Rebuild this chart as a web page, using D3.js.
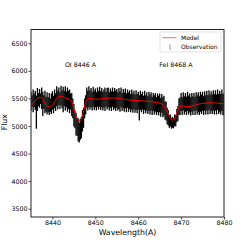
<!DOCTYPE html>
<html>
<head>
<meta charset="utf-8">
<script src="https://cdn.jsdelivr.net/npm/d3@7"></script>
<style>
  html, body { margin: 0; padding: 0; background: #fff; }
  svg { display: block; font-family: 'DejaVu Sans', sans-serif; }
</style>
</head>
<body>
<div id="chart"></div>
<script>
// observation: one column every 0.25 A from 8435 to 8480, low / high edge of the errorbar
var obsStart = 8435, obsStep = 0.25;
var obsHigh = [
  5620, 5560, 5660, 5590,  5640, 5550, 5690, 5600,  5670, 5590, 5700, 5620,
  5560, 5640, 5530, 5610,  5520, 5600, 5500, 5590,  5630, 5550, 5660, 5590,
  5720, 5640, 5700, 5610,  5730, 5650, 5710, 5640,  5720, 5620, 5700, 5640,
  5660, 5590, 5600, 5500,  5400, 5280, 5240, 5140,  5140, 5060, 5130, 5170,
  5290, 5330, 5500, 5560,  5700, 5640, 5720, 5650,  5690, 5620, 5710, 5640,
  5680, 5610, 5700, 5640,  5710, 5630, 5690, 5620,  5660, 5700, 5620, 5690,
  5700, 5610, 5680, 5630,  5700, 5620, 5690, 5640,  5670, 5610, 5690, 5630,
  5700, 5600, 5670, 5610,  5680, 5590, 5660, 5610,  5650, 5580, 5660, 5590,
  5640, 5570, 5650, 5580,  5620, 5560, 5640, 5580,  5620, 5550, 5640, 5560,
  5610, 5540, 5620, 5570,  5610, 5530, 5600, 5560,  5600, 5520, 5590, 5550,
  5590, 5510, 5580, 5520,  5550, 5450, 5440, 5330,  5290, 5200, 5210, 5150,
  5170, 5140, 5210, 5200,  5310, 5360, 5500, 5520,  5600, 5520, 5610, 5540,
  5600, 5530, 5620, 5550,  5590, 5520, 5600, 5540,  5600, 5530, 5610, 5560,
  5610, 5540, 5620, 5570,  5620, 5540, 5630, 5560,  5640, 5560, 5650, 5570,
  5630, 5570, 5650, 5580,  5650, 5570, 5660, 5580,  5640, 5580, 5660, 5590,
  5580
];
var obsLow = [
  5280, 5350, 5250, 5340,  5290, 4950, 5270, 5360,  5330, 5400, 5310, 5180,
  5310, 5230, 5260, 5210,  5250, 5200, 5260, 5220,  5300, 5230, 5320, 5270,
  5360, 5300, 5380, 5310,  5370, 5320, 5250, 5360,  5280, 5340, 5260, 5310,
  5230, 5300, 5180, 5140,  4990, 4960, 4830, 4820,  4720, 4700, 4750, 4780,
  4900, 4970, 5140, 5210,  5330, 5280, 5340, 5300,  5340, 5280, 5350, 5290,
  5340, 5280, 5350, 5300,  5350, 5290, 5340, 5280,  5330, 5270, 5350, 5300,
  5340, 5280, 5330, 5270,  5350, 5290, 5320, 5270,  5330, 5280, 5310, 5260,
  5340, 5270, 5320, 5260,  5320, 5250, 5330, 5260,  5310, 5250, 5300, 5240,
  5300, 5240, 5290, 5230,  5300, 5100, 5290, 5250,  5300, 5220, 5290, 5230,
  5280, 5220, 5270, 5210,  5280, 5200, 5270, 5210,  5260, 5200, 5250, 5190,
  5250, 5170, 5240, 5160,  5190, 5120, 5100, 5030,  5010, 4970, 4990, 4950,
  4970, 4960, 5000, 4990,  5070, 5090, 5200, 5200,  5270, 5200, 5280, 5210,
  5260, 5200, 5270, 5210,  5250, 5190, 5260, 5200,  5270, 5200, 5280, 5210,
  5250, 5200, 5260, 5220,  5270, 5200, 5280, 5210,  5280, 5210, 5290, 5220,
  5270, 5220, 5280, 5210,  5280, 5210, 5290, 5220,  5260, 5210, 5270, 5200,
  5190
];

// model spectrum
var modelWave = [8435.0, 8435.8, 8436.5, 8437.2, 8437.8, 8438.4, 8439.0, 8439.6, 8440.2, 8440.8,
  8441.4, 8442.0, 8442.8, 8443.5, 8444.0, 8444.5, 8445.0, 8445.5, 8446.0, 8446.3,
  8446.7, 8447.2, 8447.7, 8448.2, 8449.0, 8450.0, 8452.0, 8454.0, 8456.0, 8458.0,
  8460.0, 8462.0, 8464.0, 8465.5, 8466.3, 8466.9, 8467.4, 8468.0, 8468.6, 8469.1,
  8469.7, 8470.5, 8471.5, 8472.5, 8474.0, 8475.5, 8477.0, 8478.5, 8480.0];
var modelFlux = [5371, 5440, 5500, 5522, 5480, 5390, 5350, 5345, 5400, 5480,
  5530, 5540, 5520, 5490, 5480, 5440, 5320, 5190, 5110, 5095,
  5120, 5250, 5410, 5490, 5500, 5485, 5495, 5510, 5495, 5470,
  5460, 5450, 5430, 5400, 5340, 5240, 5160, 5105, 5150, 5260,
  5350, 5365, 5350, 5360, 5395, 5415, 5420, 5415, 5405];

var xTicks = [8440, 8450, 8460, 8470, 8480];
var yTicks = [3500, 4000, 4500, 5000, 5500, 6000, 6500];
var lineLabels = [
  { text: 'OI 8446 A', wave: 8442.9, flux: 6070 },
  { text: 'FeI 8468 A', wave: 8464.9, flux: 6070 }
];

var width = 249, height = 249;
var plot = { left: 31, right: 224, top: 29.5, bottom: 217 };

var svg = d3.select('#chart').append('svg')
  .attr('width', width)
  .attr('height', height);

var x = d3.scaleLinear().domain([8435, 8480]).range([plot.left, plot.right]);
var y = d3.scaleLinear().domain([3350, 6750]).range([plot.bottom, plot.top]);

var clip = svg.append('defs').append('clipPath').attr('id', 'plotClip');
clip.append('rect')
  .attr('x', plot.left).attr('y', plot.top)
  .attr('width', plot.right - plot.left)
  .attr('height', plot.bottom - plot.top);

var marks = svg.append('g').attr('clip-path', 'url(#plotClip)');

// observation errorbars
var obs = obsHigh.map(function(h, i) {
  return { w: obsStart + i * obsStep, hi: h, lo: obsLow[i] };
});
marks.append('g').attr('id', 'observation')
  .selectAll('line')
  .data(obs)
  .enter().append('line')
    .attr('x1', function(d) { return x(d.w); })
    .attr('x2', function(d) { return x(d.w); })
    .attr('y1', function(d) { return y(d.lo); })
    .attr('y2', function(d) { return y(d.hi); })
    .attr('stroke', '#000')
    .attr('stroke-width', 1.3);

// model line
var model = modelWave.map(function(w, i) { return { w: w, f: modelFlux[i] }; });
marks.append('path')
  .datum(model)
  .attr('fill', 'none')
  .attr('stroke', '#ff0000')
  .attr('stroke-width', 1)
  .attr('d', d3.line()
    .x(function(d) { return x(d.w); })
    .y(function(d) { return y(d.f); })
    .curve(d3.curveMonotoneX));

// line annotations
svg.append('g').selectAll('text')
  .data(lineLabels)
  .enter().append('text')
    .attr('x', function(d) { return x(d.wave); })
    .attr('y', function(d) { return y(d.flux); })
    .attr('font-size', 6.3)
    .attr('fill', '#000')
    .text(function(d) { return d.text; });

// axes
var xAxis = svg.append('g')
  .attr('transform', 'translate(0,' + plot.bottom + ')')
  .call(d3.axisBottom(x).tickValues(xTicks).tickSize(2.5).tickPadding(1.5).tickFormat(d3.format('d')));
var yAxis = svg.append('g')
  .attr('transform', 'translate(' + plot.left + ',0)')
  .call(d3.axisLeft(y).tickValues(yTicks).tickSize(2.5).tickPadding(1).tickFormat(d3.format('d')));
[xAxis, yAxis].forEach(function(g) {
  g.select('.domain').remove();
  g.selectAll('.tick line').attr('stroke', '#222').attr('stroke-width', 0.8);
  g.selectAll('.tick text').attr('font-size', 6.3).attr('font-family', 'DejaVu Sans, sans-serif').attr('fill', '#000');
});

// frame
svg.append('rect')
  .attr('x', plot.left).attr('y', plot.top)
  .attr('width', plot.right - plot.left)
  .attr('height', plot.bottom - plot.top)
  .attr('fill', 'none')
  .attr('stroke', '#222')
  .attr('stroke-width', 1);

// axis labels
svg.append('text')
  .attr('x', (plot.left + plot.right) / 2)
  .attr('y', 234.5)
  .attr('text-anchor', 'middle')
  .attr('font-size', 7.8)
  .text('Wavelength(A)');
svg.append('text')
  .attr('transform', 'translate(6.8,' + ((plot.top + plot.bottom) / 2 - 1) + ') rotate(-90)')
  .attr('text-anchor', 'middle')
  .attr('font-size', 7.8)
  .text('Flux');

// legend
var legend = svg.append('g').attr('transform', 'translate(160,32)');
legend.append('rect')
  .attr('width', 61).attr('height', 20)
  .attr('rx', 1.5)
  .attr('fill', '#fff')
  .attr('fill-opacity', 0.8)
  .attr('stroke', '#d0d0d0')
  .attr('stroke-width', 0.6);
legend.append('line')
  .attr('x1', 2.5).attr('x2', 16.5)
  .attr('y1', 5.7).attr('y2', 5.7)
  .attr('stroke', '#ff0000')
  .attr('stroke-opacity', 0.6)
  .attr('stroke-width', 1);
legend.append('line')
  .attr('x1', 10).attr('x2', 10)
  .attr('y1', 12.3).attr('y2', 18)
  .attr('stroke', '#000')
  .attr('stroke-opacity', 0.6)
  .attr('stroke-width', 0.7);
legend.selectAll('text.lab')
  .data(['Model', 'Observation'])
  .enter().append('text')
    .attr('class', 'lab')
    .attr('x', 21)
    .attr('y', function(d, i) { return 7.8 + i * 9; })
    .attr('font-size', 6)
    .text(function(d) { return d; });
</script>
</body>
</html>
